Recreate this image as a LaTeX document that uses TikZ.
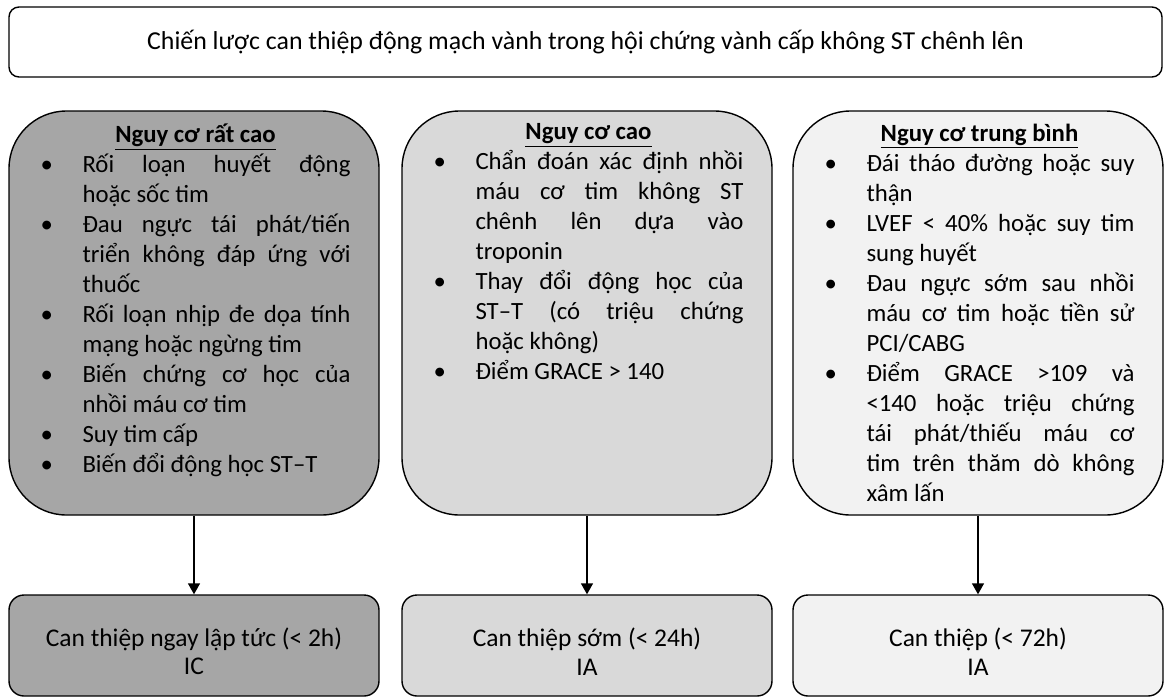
\documentclass[tikz,border=0pt]{standalone}
\usepackage{fontspec}
\setmainfont{Carlito}
\usepackage{enumitem}
\usepackage{tikz}
\usetikzlibrary{arrows.meta}

\definecolor{riskveryhigh}{HTML}{A6A6A6}
\definecolor{riskhigh}{HTML}{D9D9D9}
\definecolor{riskmid}{HTML}{F2F2F2}

\tikzset{
  titlebox/.style={draw, line width=0.8pt, rounded corners=0.2cm,
    minimum width=23.06cm, minimum height=1.4cm, inner sep=0cm},
  riskbox/.style={draw, line width=0.8pt, rounded corners=1.15cm,
    minimum width=7.4cm, minimum height=8.08cm, inner sep=0cm},
  risktext/.style={anchor=north, inner sep=0cm},
  actbox/.style={draw, line width=0.8pt, rounded corners=0.3cm,
    minimum width=7.4cm, minimum height=2.02cm, inner sep=0cm, align=center,
    font=\fontsize{14.5}{16}\selectfont},
  flow/.style={line width=0.8pt, -{Triangle[width=0.24cm,length=0.22cm]}},
}

\newcommand{\riskhead}[1]{{\centering\textbf{\underline{#1}}\par}}
\newcommand{\risksize}{\fontsize{14.1}{17.07}\selectfont\hyphenpenalty=10000}
\newenvironment{risklist}{%
  \begin{itemize}[leftmargin=0.84cm, labelsep=0pt, labelwidth=0.84cm,
    align=left, itemsep=0pt, topsep=0pt, parsep=0pt, partopsep=0pt]}
  {\end{itemize}}

\begin{document}
\begin{tikzpicture}
\useasboundingbox (0,0) rectangle (23.28,-13.96);

\node[titlebox] (title) at (11.71,-0.84)
  {\fontsize{14.7}{16}\selectfont Chiến lược can thiệp động mạch vành trong hội chứng vành cấp không ST chênh lên};

\node[riskbox, fill=riskveryhigh] (veryhigh) at (3.88,-6.26) {};
\node[riskbox, fill=riskhigh] (high) at (11.74,-6.26) {};
\node[riskbox, fill=riskmid] (mid) at (19.56,-6.26) {};

\node[risktext] (veryhightext) at ([xshift=0.03cm,yshift=-0.26cm]veryhigh.north) {
\begin{minipage}{6.2cm}
\risksize
\riskhead{Nguy cơ rất cao}
\begin{risklist}
\item Rối loạn huyết động\linebreak hoặc sốc tim
\item Đau ngực tái phát/tiến\linebreak triển không đáp ứng với\linebreak thuốc
\item Rối loạn nhịp đe dọa tính\linebreak mạng hoặc ngừng tim
\item Biến chứng cơ học của\linebreak nhồi máu cơ tim
\item Suy tim cấp
\item Biến đổi động học ST–T
\end{risklist}
\end{minipage}
};

\node[risktext] (hightext) at ([xshift=0.03cm,yshift=-0.26cm]high.north) {
\begin{minipage}{6.2cm}
\risksize
\riskhead{Nguy cơ cao}
\begin{risklist}
\item Chẩn đoán xác định nhồi\linebreak máu cơ tim không ST\linebreak chênh lên dựa vào\linebreak troponin
\item Thay đổi động học của\linebreak ST–T (có triệu chứng\linebreak hoặc không)
\item Điểm GRACE > 140
\end{risklist}
\end{minipage}
};

\node[risktext] (midtext) at ([xshift=0.03cm,yshift=-0.26cm]mid.north) {
\begin{minipage}{6.2cm}
\risksize
\riskhead{Nguy cơ trung bình}
\begin{risklist}
\item Đái tháo đường hoặc suy\linebreak thận
\item LVEF < 40\% hoặc suy tim\linebreak sung huyết
\item Đau ngực sớm sau nhồi\linebreak máu cơ tim hoặc tiền sử\linebreak PCI/CABG
\item Điểm GRACE >109 và\linebreak <140 hoặc triệu chứng\linebreak tái phát/thiếu máu cơ\linebreak tim trên thăm dò không\linebreak xâm lấn
\end{risklist}
\end{minipage}
};

\node[actbox, fill=riskveryhigh] (now) at (3.88,-12.91) {\rule{0pt}{0.62cm}Can thiệp ngay lập tức (< 2h)\\IC};
\node[actbox, fill=riskhigh] (early) at (11.74,-12.91) {\rule{0pt}{0.62cm}Can thiệp sớm (< 24h)\\IA};
\node[actbox, fill=riskmid] (later) at (19.56,-12.91) {\rule{0pt}{0.62cm}Can thiệp (< 72h)\\IA};

\draw[flow] (veryhigh) -- (now);
\draw[flow] (high) -- (early);
\draw[flow] (mid) -- (later);
\end{tikzpicture}
\end{document}
